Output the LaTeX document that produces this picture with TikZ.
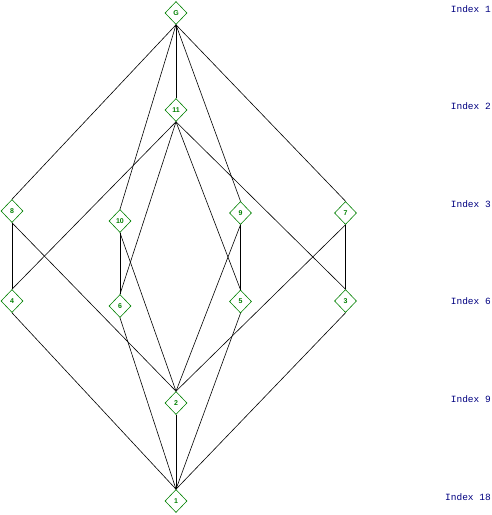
\documentclass[tikz,border=0pt]{standalone}
\usepackage{fontspec}
\setmainfont{Liberation Sans}
\newfontfamily\monofam{Liberation Mono}
\usetikzlibrary{shapes.geometric}
\definecolor{grp}{RGB}{0,128,0}
\definecolor{idx}{RGB}{0,0,128}
\tikzset{
  grpnode/.style={shape=diamond, draw=grp, text=grp, line width=0.6pt, minimum width=22pt, minimum height=23pt, inner sep=0pt, font=\fontsize{7}{7}\selectfont\bfseries},
  idxlabel/.style={anchor=east, text=idx, inner sep=0pt, font=\monofam\fontsize{9.5}{10}\selectfont},
  edge/.style={draw=black, line width=0.6pt}
}
\begin{document}
\begin{tikzpicture}[x=1pt,y=-1pt]
\useasboundingbox (0,0) rectangle (492,515);
\node[grpnode] (G) at (176,13) {G};
\node[grpnode] (n11) at (176,110) {11};
\node[grpnode] (n8) at (12,211) {8};
\node[grpnode] (n10) at (120,221) {10};
\node[grpnode] (n9) at (240.5,213) {9};
\node[grpnode] (n7) at (345.5,213) {7};
\node[grpnode] (n4) at (12,301) {4};
\node[grpnode] (n6) at (120,306) {6};
\node[grpnode] (n5) at (240.5,301.5) {5};
\node[grpnode] (n3) at (345.5,301) {3};
\node[grpnode] (n2) at (176,403) {2};
\node[grpnode] (n1) at (176,501) {1};

\node[idxlabel] (i1) at (491,9) {Index 1};
\node[idxlabel] (i2) at (491,106) {Index 2};
\node[idxlabel] (i3) at (491,204) {Index 3};
\node[idxlabel] (i6) at (491,301) {Index 6};
\node[idxlabel] (i9) at (491,399) {Index 9};
\node[idxlabel] (i18) at (491,497) {Index 18};

\foreach \b in {n8,n10,n11,n9,n7} \draw[edge] (G.south) -- (\b.north);
\foreach \b in {n4,n6,n5,n3} \draw[edge] (n11.south) -- (\b.north);
\draw[edge] (n8.south) -- (n4.north);
\draw[edge] (n10.south) -- (n6.north);
\draw[edge] (n9.south) -- (n5.north);
\draw[edge] (n7.south) -- (n3.north);
\foreach \a in {n8,n10,n9,n7} \draw[edge] (\a.south) -- (n2.north);
\foreach \a in {n4,n6,n5,n3,n2} \draw[edge] (\a.south) -- (n1.north);
\end{tikzpicture}
\end{document}
